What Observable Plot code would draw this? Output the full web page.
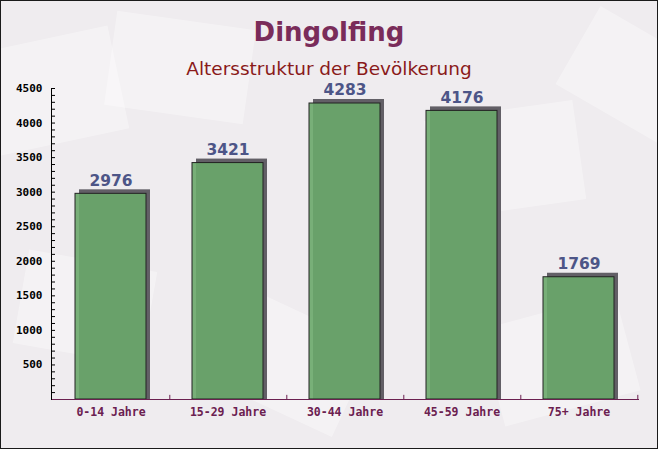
<!DOCTYPE html>
<html>
<head>
<meta charset="utf-8">
<script src="https://cdn.jsdelivr.net/npm/d3@7"></script>
<script src="https://cdn.jsdelivr.net/npm/@observablehq/plot@0.6"></script>
<style>
  html, body { margin: 0; padding: 0; background: #fff; }
  #wrap { position: relative; width: 658px; height: 449px; overflow: hidden; background: #efecef; }
  .deco { position: absolute; background: rgba(255,255,255,0.35); }
  #title { position: absolute; left: 0; width: 658px; top: 17px; text-align: center;
    font-family: "DejaVu Sans", sans-serif; font-weight: bold; font-size: 26px; color: #7a2c5a; }
  #subtitle { position: absolute; left: 0; width: 658px; top: 58px; text-align: center;
    font-family: "DejaVu Sans", sans-serif; font-size: 18.5px; color: #8a1a1a; }
  #chart { position: absolute; left: 0; top: 0; }
  #border { position: absolute; left: 0; top: 0; width: 658px; height: 449px; box-sizing: border-box;
    border: 1px solid #1a1a1a; pointer-events: none; }
</style>
</head>
<body>
<div id="wrap">
  <div class="deco" style="left:-30px;top:40px;width:150px;height:105px;transform:rotate(-12deg)"></div>
  <div class="deco" style="left:110px;top:20px;width:140px;height:95px;transform:rotate(8deg)"></div>
  <div class="deco" style="left:430px;top:110px;width:150px;height:100px;transform:rotate(-8deg)"></div>
  <div class="deco" style="left:210px;top:310px;width:150px;height:100px;transform:rotate(25deg)"></div>
  <div class="deco" style="left:490px;top:310px;width:140px;height:100px;transform:rotate(-15deg)"></div>
  <div class="deco" style="left:20px;top:260px;width:130px;height:95px;transform:rotate(10deg)"></div>
  <div class="deco" style="left:570px;top:30px;width:120px;height:90px;transform:rotate(30deg)"></div>
  <div id="chart"></div>
  <div id="title">Dingolfing</div>
  <div id="subtitle">Altersstruktur der Bevölkerung</div>
  <div id="border"></div>
</div>
<script>
const categories = ["0-14 Jahre", "15-29 Jahre", "30-44 Jahre", "45-59 Jahre", "75+ Jahre"];
const values = [2976, 3421, 4283, 4176, 1769];
const majorTicks = [500, 1000, 1500, 2000, 2500, 3000, 3500, 4000, 4500];
const minorTicks = d3.range(100, 4501, 100);

const data = categories.map((c, i) => ({cat: c, val: values[i]}));

const chart = Plot.plot({
  width: 658,
  height: 449,
  marginTop: 88,
  marginBottom: 50,
  marginLeft: 51,
  marginRight: 19,
  style: {background: "transparent", overflow: "visible"},
  x: {domain: categories, paddingInner: 0.39, paddingOuter: 0.195, label: null},
  y: {domain: [0, 4500], label: null},
  marks: [
    Plot.rectY(data, {x: "cat", y: "val", fill: "#625f66", dx: 4, dy: -4, insetBottom: -4}),
    Plot.rectY(data, {x: "cat", y: "val", fill: "#6aa86a", fillOpacity: 0.9, stroke: "#222", strokeWidth: 1}),
    Plot.text(data, {x: "cat", y: "val", text: d => String(d.val), dy: -8, lineAnchor: "bottom",
      fontSize: 15.5, fontWeight: "bold", fontFamily: "DejaVu Sans, sans-serif", fill: "#4d5587"}),
    Plot.ruleY([0], {stroke: "#6b2050", strokeWidth: 1}),
    Plot.frame({anchor: "left", stroke: "#000"}),
    Plot.axisY({ticks: majorTicks, tickSize: 0, tickPadding: 9, tickFormat: d3.format("d"), label: null,
      fontFamily: "DejaVu Sans Mono, monospace", fontWeight: "bold", fontSize: 11, fill: "#000"}),
    Plot.tickY(minorTicks, {y: d => d, insetRight: 584, stroke: "#000"}),
    Plot.ruleX(categories, {x: d => d, dx: 58.8, y1: 0, y2: 60, stroke: "#6b2050"}),
    Plot.axisX({tickSize: 0, tickPadding: 8, label: null,
      fontFamily: "DejaVu Sans Mono, monospace", fontWeight: "bold", fontSize: 11.5, fill: "#6b2050"})
  ]
});
document.getElementById("chart").appendChild(chart);
</script>
</body>
</html>
